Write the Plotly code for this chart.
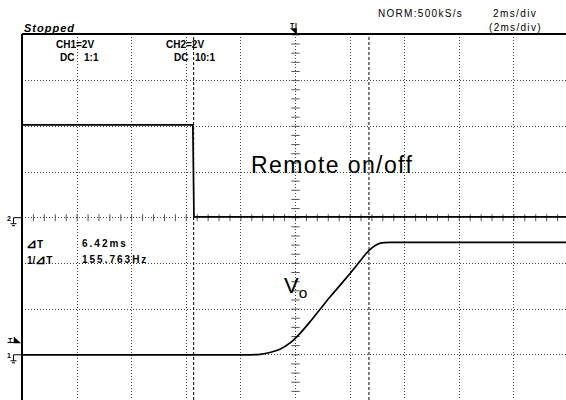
import numpy as np
import plotly.graph_objects as go

# ---------------- data ----------------
time_remote_ms = [-10.0, -3.76, -3.72, 10.0]
remote_v = [4.06, 4.06, 0.04, 0.04]          # CH2, 2 V/div, ground at centre

time_vo_ms = [-10.0, -1.67, -1.30, -0.93, -0.57, -0.20, 0.16, 0.53, 0.90, 1.26,
              1.63, 2.00, 2.37, 2.58, 2.80, 3.02, 3.24, 3.46, 10.0]
vo_v = [0.0, 0.0, 0.02, 0.10, 0.24, 0.52, 0.93, 1.44, 1.99, 2.53,
        3.04, 3.56, 4.11, 4.42, 4.68, 4.85, 4.91, 4.92, 4.92]   # CH1, 2 V/div, ground at -3 div

cursor_ms = [-3.73, 2.69]
trigger_level_v = 0.58

VOLTS_PER_DIV = 2.0
CH1_GROUND_DIV = -3.0
CH2_GROUND_DIV = 0.0
MS_PER_DIV = 2.0

# ---------------- geometry ----------------
W, H = 566, 400
L, T = 22, 34
PW, PH = W - L, H - T
CX, CY = 295.5, 217.7          # screen centre in pixels
DX, DY = 54.6, 45.7            # pixels per division

x_range = [(L - CX) / DX * MS_PER_DIV, (W - CX) / DX * MS_PER_DIV]
y_range = [(CY - H) / DY, (CY - T) / DY]


def px(x):
    return (x - L) / PW


def py(y):
    return (H - y) / PH


def to_div(v, ground):
    return [val / VOLTS_PER_DIV + ground for val in v]


FONT = "Liberation Sans"
fig = go.Figure()

# centre-line tick marks (graticule)
tick_x = np.arange(-10, 10.001, MS_PER_DIV / 5)
tick_y = np.arange(-4, 4.001, 0.2)
fig.add_trace(go.Scatter(x=tick_x, y=np.zeros_like(tick_x), mode="markers",
                         marker=dict(symbol="line-ns", size=5, color="#555",
                                     line=dict(width=1, color="#555")),
                         hoverinfo="skip", showlegend=False))
fig.add_trace(go.Scatter(x=np.zeros_like(tick_y), y=tick_y, mode="markers",
                         marker=dict(symbol="line-ew", size=6, color="#555",
                                     line=dict(width=1, color="#555")),
                         hoverinfo="skip", showlegend=False))

# traces
fig.add_trace(go.Scatter(x=time_remote_ms, y=to_div(remote_v, CH2_GROUND_DIV),
                         mode="lines", line=dict(color="black", width=1.7),
                         showlegend=False))
fig.add_trace(go.Scatter(x=time_vo_ms, y=to_div(vo_v, CH1_GROUND_DIV),
                         mode="lines", line=dict(color="black", width=1.7, shape="spline", smoothing=0.5),
                         showlegend=False))

shapes = []
# cursors
for c in cursor_ms:
    shapes.append(dict(type="line", xref="x", yref="paper", x0=c, x1=c, y0=0, y1=1,
                       line=dict(color="black", width=1, dash="3px,2px")))
# borders
shapes.append(dict(type="line", xref="paper", yref="paper", x0=0, x1=1, y0=1, y1=1,
                   line=dict(color="black", width=2)))
shapes.append(dict(type="line", xref="paper", yref="paper", x0=0, x1=0, y0=0, y1=1,
                   line=dict(color="black", width=2)))


def ground_symbol(y0):
    segs = [((13.5, y0), (L, y0)), ((13.5, y0), (13.5, y0 + 6)),
            ((10.5, y0 + 6), (16.5, y0 + 6)), ((12, y0 + 8), (15, y0 + 8))]
    for (a, b) in segs:
        shapes.append(dict(type="line", xref="paper", yref="paper",
                           x0=px(a[0]), y0=py(a[1]), x1=px(b[0]), y1=py(b[1]),
                           line=dict(color="black", width=1)))


ground_symbol(CY - CH2_GROUND_DIV * DY)
ground_symbol(CY - CH1_GROUND_DIV * DY)

# trigger level marker (left)
ty = CY - (trigger_level_v / VOLTS_PER_DIV + CH1_GROUND_DIV) * DY
shapes.append(dict(type="line", xref="paper", yref="paper", x0=px(7.5), x1=px(14),
                   y0=py(ty + 1), y1=py(ty + 1), line=dict(color="black", width=1)))
shapes.append(dict(type="path", xref="paper", yref="paper",
                   path=f"M{px(14)},{py(ty - 4.5)} L{px(14)},{py(ty + 1.5)} L{px(20.5)},{py(ty + 1.5)} Z",
                   fillcolor="black", line=dict(color="black", width=0.5)))
# trigger position marker (top)
shapes.append(dict(type="path", xref="paper", yref="paper",
                   path=f"M{px(290.5)},{py(28.5)} L{px(296.5)},{py(28.5)} L{px(296.5)},{py(34)} Z",
                   fillcolor="black", line=dict(color="black", width=0.5)))
shapes.append(dict(type="line", xref="paper", yref="paper", x0=px(296), x1=px(296),
                   y0=py(23), y1=py(33), line=dict(color="black", width=1)))

annotations = []


def txt(text, x, y, size=10, bold=True, italic=False, spacing=0, family=FONT, anchor="left"):
    t = text
    if spacing:
        t = f'<span style="letter-spacing:{spacing}px">{t}</span>'
    annotations.append(dict(text=t, xref="paper", yref="paper", x=px(x), y=py(y),
                            xanchor=anchor, yanchor="middle", showarrow=False,
                            font=dict(family=family, size=size, color="black",
                                      weight="bold" if bold else "normal",
                                      style="italic" if italic else "normal")))


txt("Stopped", 22, 28, size=11, italic=True, spacing=1)
txt("CH1=2V", 54, 44)
txt("DC", 58, 58)
txt("1:1", 81.5, 58)
txt("CH2=2V", 164, 44)
txt("DC", 171.5, 58)
txt("10:1", 193, 58)
txt("NORM:500kS/s", 376, 13, size=10, bold=False, spacing=1.3)
txt("2ms/div", 491, 13, size=10, bold=False, spacing=1.4)
txt("(2ms/div)", 487, 28, size=10, bold=False, spacing=1.3)
txt('<span style="font-size:13px">⊿</span>T', 24, 243)
txt('1/<span style="font-size:13px">⊿</span>T', 25, 259)
txt("6.42ms", 80, 243, spacing=2)
txt("155.763Hz", 80, 259, spacing=2)
txt("2", 9, CY - CH2_GROUND_DIV * DY + 1, size=7, anchor="center")
txt("1", 9, CY - CH1_GROUND_DIV * DY + 1, size=7, anchor="center")
txt("T", 10, ty - 1.5, size=7, anchor="center")
txt("T", 292.5, 25.5, size=7, anchor="center")
txt("Remote on/off", 249, 165, size=23, bold=False, spacing=1.4)
txt("V<sub>o</sub>", 282, 287, size=22, bold=False)

fig.update_layout(
    width=W, height=H,
    margin=dict(l=L, r=0, t=T, b=0, pad=0),
    paper_bgcolor="white", plot_bgcolor="white",
    xaxis=dict(range=x_range, dtick=MS_PER_DIV, tick0=0, showgrid=True,
               gridcolor="#444", griddash="1px,2px", gridwidth=1, zeroline=False,
               showticklabels=False, ticks="", showline=False, fixedrange=True),
    yaxis=dict(range=y_range, dtick=1, tick0=0, showgrid=True,
               gridcolor="#444", griddash="1px,2px", gridwidth=1, zeroline=False,
               showticklabels=False, ticks="", showline=False, fixedrange=True),
    shapes=shapes, annotations=annotations, showlegend=False,
)

fig.write_html("out.html", config={"displayModeBar": False},
               post_script="document.body.style.margin='0';document.body.style.overflow='hidden';")
